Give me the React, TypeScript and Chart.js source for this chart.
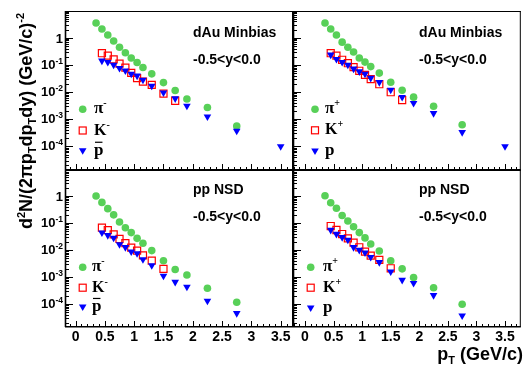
import React, { useEffect, useRef } from 'react';
import { Chart, registerables } from 'chart.js';

Chart.register(...registerables);

const W = 527;
const H = 366;

// pT bin centres (GeV/c)
const PT_PI = [0.35, 0.45, 0.55, 0.65, 0.75, 0.85, 0.95, 1.05, 1.15, 1.3, 1.5, 1.7, 1.9, 2.25, 2.75];
const PT_K_DAU = [0.45, 0.55, 0.65, 0.75, 0.85, 0.95, 1.05, 1.15, 1.3, 1.5, 1.7];
const PT_K_PP = [0.45, 0.55, 0.65, 0.75, 0.85, 0.95, 1.05, 1.15, 1.3, 1.5];
const PT_P_DAU = [0.45, 0.55, 0.65, 0.75, 0.85, 0.95, 1.05, 1.15, 1.3, 1.5, 1.7, 1.9, 2.25, 2.75, 3.5];
const PT_P_PP = [0.45, 0.55, 0.65, 0.75, 0.85, 0.95, 1.05, 1.15, 1.3, 1.5, 1.7, 1.9, 2.25, 2.75];

// d+Au minbias
const DAU_PIM = [3.5, 2.1, 1.26, 0.76, 0.45, 0.28, 0.18, 0.123, 0.08, 0.047, 0.0224, 0.0114, 0.0056, 0.0027, 0.00056];
const DAU_KM = [0.27, 0.22, 0.16, 0.112, 0.08, 0.051, 0.033, 0.0245, 0.0185, 0.0088, 0.0048];
const DAU_PBAR = [0.142, 0.127, 0.1, 0.076, 0.062, 0.047, 0.04, 0.028, 0.017, 0.0095, 0.0058, 0.0031, 0.00125, 0.00037, 0.0001];
const DAU_PIP = [3.5, 2.1, 1.26, 0.69, 0.45, 0.3, 0.18, 0.127, 0.087, 0.05, 0.023, 0.0117, 0.0065, 0.003, 0.00063];
const DAU_KP = [0.27, 0.22, 0.155, 0.116, 0.083, 0.061, 0.043, 0.03, 0.0195, 0.0099, 0.0051];
const DAU_P = [0.236, 0.163, 0.127, 0.1, 0.072, 0.057, 0.047, 0.033, 0.023, 0.012, 0.0065, 0.0039, 0.00166, 0.00033, 0.0001];

// p+p NSD
const PP_PIM = [1.0, 0.58, 0.34, 0.2, 0.109, 0.067, 0.044, 0.027, 0.0178, 0.0095, 0.004, 0.0019, 0.00118, 0.00038, 0.000115];
const PP_KM = [0.067, 0.054, 0.038, 0.0256, 0.0178, 0.0122, 0.0094, 0.0063, 0.004, 0.002];
const PP_PBAR = [0.044, 0.035, 0.028, 0.016, 0.0126, 0.0087, 0.0075, 0.0045, 0.0027, 0.0011, 0.00065, 0.00043, 0.000129, 0.000045];
const PP_PIP = [1.02, 0.56, 0.35, 0.19, 0.118, 0.073, 0.044, 0.028, 0.0167, 0.0092, 0.004, 0.002, 0.00095, 0.0004, 0.000098];
const PP_KP = [0.077, 0.055, 0.039, 0.027, 0.0187, 0.0126, 0.0087, 0.0062, 0.0043, 0.0021];
const PP_P = [0.055, 0.039, 0.0295, 0.0235, 0.0126, 0.01, 0.008, 0.0054, 0.0035, 0.00158, 0.00077, 0.00059, 0.00021, 0.000037];

// axis tick labels
const X_TICKS = [0, 0.5, 1, 1.5, 2, 2.5, 3, 3.5];
const Y_DECADES = [0, -1, -2, -3, -4];

const LABEL_SYSTEM = ['dAu Minbias', 'dAu Minbias', 'pp NSD', 'pp NSD'];
const LABEL_RAPIDITY = '-0.5<y<0.0';

const GREEN = '#58d058';
const RED = '#ff0000';
const BLUE = '#0000ff';
const SANS = '"Liberation Sans", Arial, Helvetica, sans-serif';
const SERIF = '"Liberation Serif", "Times New Roman", serif';

type Seg = { t: string; size: number; dy?: number; overline?: boolean };

function drawRich(
  ctx: CanvasRenderingContext2D,
  segs: Seg[],
  x: number,
  y: number,
  align: 'left' | 'right' | 'center',
  family: string,
) {
  const widths = segs.map((s) => {
    ctx.font = `bold ${s.size}px ${family}`;
    return ctx.measureText(s.t).width;
  });
  const total = widths.reduce((a, b) => a + b, 0);
  let cx = align === 'left' ? x : align === 'right' ? x - total : x - total / 2;
  ctx.textAlign = 'left';
  ctx.textBaseline = 'alphabetic';
  segs.forEach((s, i) => {
    ctx.font = `bold ${s.size}px ${family}`;
    ctx.fillText(s.t, cx, y + (s.dy ?? 0));
    if (s.overline) {
      ctx.save();
      ctx.lineWidth = 1.2;
      ctx.beginPath();
      ctx.moveTo(cx + 1, y - s.size * 0.72);
      ctx.lineTo(cx + widths[i] - 1, y - s.size * 0.72);
      ctx.stroke();
      ctx.restore();
    }
    cx += widths[i];
  });
}

interface PanelCfg {
  id: number;
  frame: [number, number, number, number]; // left, top, right, bottom
  xMin: number;
  xMax: number;
  yMin: number;
  yMax: number;
  pi: { x: number[]; y: number[] };
  k: { x: number[]; y: number[] };
  p: { x: number[]; y: number[] };
  positive: boolean;
  yLabels: boolean;
  xLabels: boolean;
  legendX: number;
  legendTextX: number;
  legendY: [number, number, number];
  annX: number;
  annY: [number, number];
  titles: boolean;
}

const PANELS: PanelCfg[] = [
  {
    id: 0, frame: [65, 11, 293, 170], xMin: -0.18, xMax: 3.71, yMin: 1.35e-5, yMax: 9.7,
    pi: { x: PT_PI, y: DAU_PIM }, k: { x: PT_K_DAU, y: DAU_KM }, p: { x: PT_P_DAU, y: DAU_PBAR },
    positive: false, yLabels: true, xLabels: false,
    legendX: 82.7, legendTextX: 94, legendY: [109.3, 130.5, 150.5], annX: 193, annY: [37, 64], titles: false,
  },
  {
    id: 1, frame: [293, 11, 521, 170], xMin: -0.21, xMax: 3.776, yMin: 1.35e-5, yMax: 9.7,
    pi: { x: PT_PI, y: DAU_PIP }, k: { x: PT_K_DAU, y: DAU_KP }, p: { x: PT_P_DAU, y: DAU_P },
    positive: true, yLabels: false, xLabels: false,
    legendX: 315, legendTextX: 325, legendY: [109.3, 130.3, 150.7], annX: 419, annY: [37, 64], titles: false,
  },
  {
    id: 2, frame: [65, 170, 293, 327], xMin: -0.18, xMax: 3.71, yMin: 1.4e-5, yMax: 9.2,
    pi: { x: PT_PI, y: PP_PIM }, k: { x: PT_K_PP, y: PP_KM }, p: { x: PT_P_PP, y: PP_PBAR },
    positive: false, yLabels: true, xLabels: true,
    legendX: 82.7, legendTextX: 92, legendY: [267.3, 287.7, 306.7], annX: 193, annY: [194, 221], titles: true,
  },
  {
    id: 3, frame: [293, 170, 521, 327], xMin: -0.21, xMax: 3.776, yMin: 1.4e-5, yMax: 9.2,
    pi: { x: PT_PI, y: PP_PIP }, k: { x: PT_K_PP, y: PP_KP }, p: { x: PT_P_PP, y: PP_P },
    positive: true, yLabels: false, xLabels: true,
    legendX: 310.7, legendTextX: 323, legendY: [267.3, 287.7, 307.7], annX: 419, annY: [194, 221], titles: false,
  },
];

function pts(xs: number[], ys: number[]) {
  return xs.map((x, i) => ({ x, y: ys[i] }));
}

function line(ctx: CanvasRenderingContext2D, x1: number, y1: number, x2: number, y2: number) {
  ctx.beginPath();
  ctx.moveTo(x1, y1);
  ctx.lineTo(x2, y2);
  ctx.stroke();
}

function makePlugin(cfg: PanelCfg) {
  return {
    id: 'panelDeco' + cfg.id,
    afterDraw(chart: any) {
      const ctx: CanvasRenderingContext2D = chart.ctx;
      const { left, right, top, bottom } = chart.chartArea;
      const xs = chart.scales.x;
      const ys = chart.scales.y;
      ctx.save();
      ctx.strokeStyle = '#000';
      ctx.fillStyle = '#000';
      // frame
      ctx.lineWidth = 1;
      line(ctx, left, top + 0.5, right, top + 0.5);
      line(ctx, right - 0.5, top, right - 0.5, bottom);
      ctx.lineWidth = 1.6;
      line(ctx, left + 0.5, top, left + 0.5, bottom);
      line(ctx, left, bottom - 0.2, right, bottom - 0.2);
      // y ticks (log)
      ctx.lineWidth = 1;
      for (let d = -6; d <= 1; d++) {
        for (let k = 1; k <= 9; k++) {
          const v = k * Math.pow(10, d);
          if (v < cfg.yMin || v > cfg.yMax) continue;
          const py = Math.round(ys.getPixelForValue(v)) + 0.5;
          line(ctx, left, py, left + (k === 1 ? 8 : 4), py);
        }
      }
      // x ticks
      for (let i = Math.ceil(cfg.xMin * 10); i <= Math.floor(cfg.xMax * 10); i++) {
        const px = Math.round(xs.getPixelForValue(i / 10)) + 0.5;
        line(ctx, px, bottom, px, bottom - (i % 5 === 0 ? 6 : 3));
      }
      // y tick labels
      if (cfg.yLabels) {
        for (const d of Y_DECADES) {
          const py = ys.getPixelForValue(Math.pow(10, d));
          if (d === 0) {
            drawRich(ctx, [{ t: '1', size: 13 }], left - 2, py + 4.8, 'right', SANS);
          } else {
            drawRich(ctx, [{ t: '10', size: 13 }, { t: String(d), size: 8.5, dy: -5 }], left - 2, py + 3.8, 'right', SANS);
          }
        }
      }
      // x tick labels
      if (cfg.xLabels) {
        for (const v of X_TICKS) {
          const px = xs.getPixelForValue(v);
          drawRich(ctx, [{ t: String(v), size: 14 }], px, bottom + 13.5, 'center', SANS);
        }
      }
      // annotations
      drawRich(ctx, [{ t: LABEL_SYSTEM[cfg.id], size: 14 }], cfg.annX, cfg.annY[0], 'left', SANS);
      drawRich(ctx, [{ t: LABEL_RAPIDITY, size: 14 }], cfg.annX, cfg.annY[1], 'left', SANS);
      // legend markers
      const lx = cfg.legendX;
      const [y1, y2, y3] = cfg.legendY;
      ctx.fillStyle = GREEN;
      ctx.beginPath();
      ctx.arc(lx, y1, 3.8, 0, Math.PI * 2);
      ctx.fill();
      ctx.strokeStyle = RED;
      ctx.lineWidth = 1.2;
      ctx.strokeRect(lx - 3.5, y2 - 3.5, 7, 7);
      ctx.fillStyle = BLUE;
      ctx.beginPath();
      ctx.moveTo(lx - 3.8, y3 - 2.2);
      ctx.lineTo(lx + 3.8, y3 - 2.2);
      ctx.lineTo(lx, y3 + 4.3);
      ctx.closePath();
      ctx.fill();
      // legend text
      ctx.fillStyle = '#000';
      ctx.strokeStyle = '#000';
      const sign = cfg.positive ? '+' : '-';
      drawRich(ctx, [{ t: 'π', size: 17 }, { t: sign, size: 10, dy: -7 }], cfg.legendTextX, y1 + 4, 'left', SERIF);
      drawRich(ctx, [{ t: 'K', size: 16 }, { t: sign, size: 10, dy: -7 }], cfg.legendTextX, y2 + 4, 'left', SERIF);
      drawRich(ctx, [{ t: 'p', size: 17, overline: !cfg.positive }], cfg.legendTextX, y3 + 4, 'left', SERIF);
      // global axis titles
      if (cfg.titles) {
        ctx.save();
        ctx.translate(32, 121);
        ctx.rotate(-Math.PI / 2);
        drawRich(
          ctx,
          [
            { t: 'd', size: 18 },
            { t: '2', size: 11, dy: -7 },
            { t: 'N/(2', size: 18 },
            { t: 'π', size: 18 },
            { t: 'p', size: 18 },
            { t: 'T', size: 11, dy: 4 },
            { t: 'dp', size: 18 },
            { t: 'T', size: 11, dy: 4 },
            { t: 'dy) (GeV/c)', size: 18 },
            { t: '-2', size: 11, dy: -8 },
          ],
          0,
          0,
          'center',
          SANS,
        );
        ctx.restore();
        drawRich(
          ctx,
          [
            { t: 'p', size: 18 },
            { t: 'T', size: 11, dy: 4 },
            { t: ' (GeV/c)', size: 18 },
          ],
          523,
          360,
          'right',
          SANS,
        );
      }
      ctx.restore();
    },
  };
}

function Panel({ cfg }: { cfg: PanelCfg }) {
  const ref = useRef<HTMLCanvasElement>(null);
  useEffect(() => {
    const [l, t, r, b] = cfg.frame;
    const chart = new Chart(ref.current as HTMLCanvasElement, {
      type: 'scatter',
      data: {
        datasets: [
          {
            label: cfg.positive ? 'π+' : 'π-',
            data: pts(cfg.pi.x, cfg.pi.y),
            pointStyle: 'circle',
            pointRadius: 3.8,
            backgroundColor: GREEN,
            borderColor: GREEN,
            borderWidth: 0,
            order: 3,
          },
          {
            label: cfg.positive ? 'K+' : 'K-',
            data: pts(cfg.k.x, cfg.k.y),
            pointStyle: 'rect',
            pointRadius: 5,
            backgroundColor: 'rgba(0,0,0,0)',
            borderColor: RED,
            borderWidth: 1.2,
            order: 2,
          },
          {
            label: cfg.positive ? 'p' : 'pbar',
            data: pts(cfg.p.x, cfg.p.y),
            pointStyle: 'triangle',
            pointRotation: 180,
            pointRadius: 4.4,
            backgroundColor: BLUE,
            borderColor: BLUE,
            borderWidth: 0,
            order: 1,
          },
        ],
      },
      options: {
        animation: false,
        responsive: false,
        devicePixelRatio: 1,
        events: [],
        layout: { padding: { left: l, top: t, right: W - r, bottom: H - b } },
        plugins: { legend: { display: false }, tooltip: { enabled: false }, title: { display: false } },
        scales: {
          x: { type: 'linear', min: cfg.xMin, max: cfg.xMax, display: false },
          y: { type: 'logarithmic', min: cfg.yMin, max: cfg.yMax, display: false },
        },
      } as any,
      plugins: [makePlugin(cfg)],
    });
    return () => chart.destroy();
  }, [cfg]);
  return (
    <canvas
      ref={ref}
      width={W}
      height={H}
      style={{ position: 'absolute', left: 0, top: 0, width: W, height: H }}
    />
  );
}

export default function App() {
  return (
    <div style={{ position: 'fixed', left: 0, top: 0, width: W, height: H, background: '#fff', overflow: 'hidden' }}>
      {PANELS.map((p) => (
        <Panel key={p.id} cfg={p} />
      ))}
    </div>
  );
}
